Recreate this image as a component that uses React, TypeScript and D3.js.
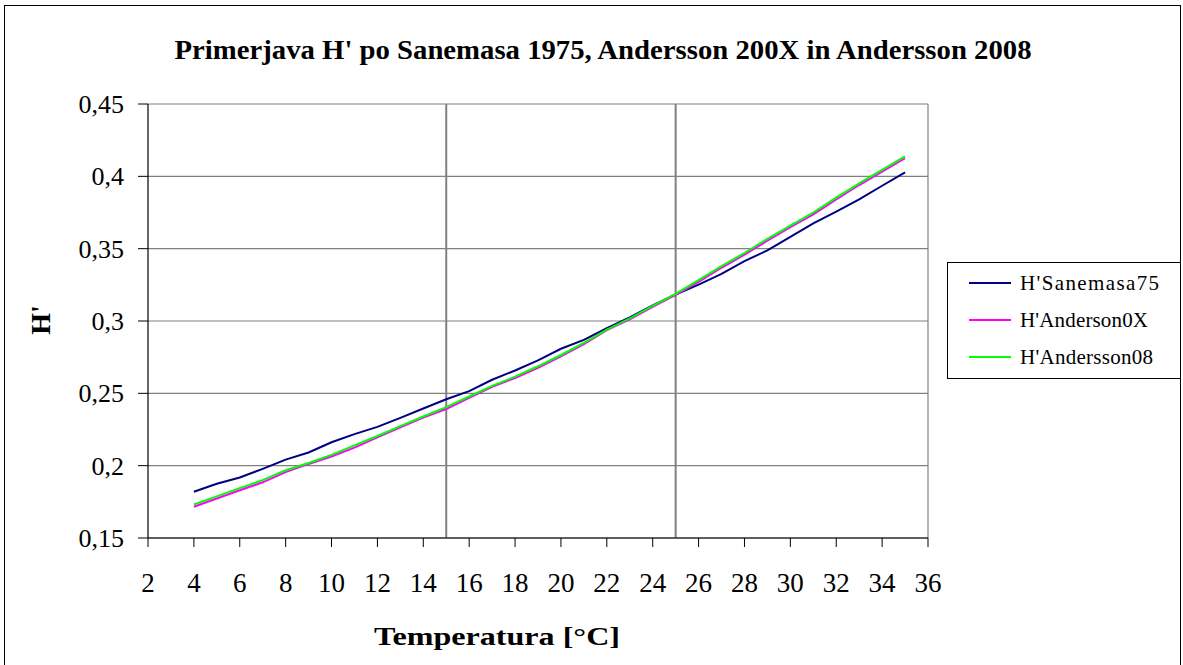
import React from "react";
import * as d3 from "d3";

const temps = [4, 5, 6, 7, 8, 9, 10, 11, 12, 13, 14, 15, 16, 17, 18, 19, 20, 21, 22, 23, 24, 25, 26, 27, 28, 29, 30, 31, 32, 33, 34, 35];

const sanemasa75 = [
  0.182, 0.1875, 0.1918, 0.1978, 0.2042, 0.2091, 0.2162, 0.2218, 0.2268, 0.233, 0.2395, 0.2459,
  0.2515, 0.2594, 0.2658, 0.2728, 0.2808, 0.287, 0.295, 0.3025, 0.3108, 0.3183, 0.3252, 0.3325,
  0.3414, 0.3488, 0.3582, 0.3675, 0.3756, 0.384, 0.3935, 0.4028,
];

const anderson0X = [
  0.1716, 0.1773, 0.183, 0.1885, 0.1955, 0.2012, 0.2063, 0.2125, 0.2195, 0.2265, 0.2333, 0.2392,
  0.2468, 0.2545, 0.2606, 0.2677, 0.2755, 0.284, 0.2937, 0.3012, 0.3098, 0.318, 0.327, 0.3368,
  0.3458, 0.3555, 0.3648, 0.3737, 0.384, 0.394, 0.4032, 0.4125,
];

const andersson08 = [
  0.1732, 0.1788, 0.1845, 0.19, 0.1968, 0.2018, 0.2075, 0.214, 0.2205, 0.2273, 0.234, 0.2405,
  0.2478, 0.2552, 0.2615, 0.2687, 0.2765, 0.2848, 0.294, 0.3018, 0.3105, 0.3188, 0.3282, 0.338,
  0.347, 0.3568, 0.366, 0.375, 0.3853, 0.3952, 0.4045, 0.4138,
];

const seriesNames = ["H'Sanemasa75", "H'Anderson0X", "H'Andersson08"];
const seriesColors = ["#000080", "#FF00FF", "#00FF00"];
const xTicks = [2, 4, 6, 8, 10, 12, 14, 16, 18, 20, 22, 24, 26, 28, 30, 32, 34, 36];
const yTicks = [0.15, 0.2, 0.25, 0.3, 0.35, 0.4, 0.45];
const markerTemps = [15, 25];

const W = 1183;
const H = 665;
const plot = { left: 148, right: 928, top: 104, bottom: 538 };
const serif = { fontFamily: '"Liberation Serif", "Times New Roman", Times, serif' };

export default function App() {
  const x = d3.scaleLinear().domain([2, 36]).range([plot.left, plot.right]);
  const y = d3.scaleLinear().domain([0.15, 0.45]).range([plot.bottom, plot.top]);

  const allSeries = [sanemasa75, anderson0X, andersson08];
  const line = d3
    .line<number>()
    .x((_, i) => x(temps[i]))
    .y((d) => y(d));

  const fmt = (v: number) => String(+v.toFixed(2)).replace(".", ",");

  return (
    <svg width={W} height={H} style={{ position: "absolute", left: 0, top: 0, background: "#fff" }}>
      <rect x={4.5} y={5.5} width={1176} height={670} fill="#fff" stroke="#000" strokeWidth={1} />

      {/* title */}
      <text
        x={603}
        y={59}
        textAnchor="middle"
        fontSize={27}
        fontWeight="bold"
        textLength={857}
        lengthAdjust="spacingAndGlyphs"
        style={serif}
      >
        Primerjava H' po Sanemasa 1975, Andersson 200X in Andersson 2008
      </text>

      {/* grid */}
      {yTicks.map((t) => (
        <line key={"g" + t} x1={plot.left} x2={plot.right} y1={y(t)} y2={y(t)} stroke="#808080" strokeWidth={1.2} />
      ))}
      <line x1={plot.right} x2={plot.right} y1={plot.top} y2={plot.bottom} stroke="#808080" strokeWidth={1.2} />
      {markerTemps.map((t) => (
        <line key={"m" + t} x1={x(t)} x2={x(t)} y1={plot.top} y2={plot.bottom} stroke="#808080" strokeWidth={2} />
      ))}

      {/* axes */}
      <line x1={plot.left} x2={plot.left} y1={plot.top} y2={plot.bottom} stroke="#000" strokeWidth={1.2} />
      <line x1={plot.left} x2={plot.right} y1={plot.bottom} y2={plot.bottom} stroke="#000" strokeWidth={1.2} />
      {yTicks.map((t) => (
        <g key={"y" + t}>
          <line x1={plot.left - 10} x2={plot.left} y1={y(t)} y2={y(t)} stroke="#000" />
          <text x={124} y={y(t)} dy="0.35em" textAnchor="end" fontSize={26} style={serif}>
            {fmt(t)}
          </text>
        </g>
      ))}
      {xTicks.map((t) => (
        <g key={"x" + t}>
          <line x1={x(t)} x2={x(t)} y1={plot.bottom} y2={plot.bottom + 9} stroke="#000" />
          <text x={x(t)} y={592} textAnchor="middle" fontSize={27} style={serif}>
            {t}
          </text>
        </g>
      ))}

      {/* axis titles */}
      <text
        x={497}
        y={645}
        textAnchor="middle"
        fontSize={26}
        fontWeight="bold"
        textLength={246}
        lengthAdjust="spacingAndGlyphs"
        style={serif}
      >
        Temperatura [°C]
      </text>
      <text transform="translate(50,320) rotate(-90)" textAnchor="middle" fontSize={28} fontWeight="bold" style={serif}>
        H'
      </text>

      {/* series */}
      {allSeries.map((s, i) => (
        <path key={seriesNames[i]} d={line(s) || ""} fill="none" stroke={seriesColors[i]} strokeWidth={2} />
      ))}

      {/* legend */}
      <rect x={947.5} y={262.5} width={233} height={116} fill="#fff" stroke="#000" strokeWidth={1} />
      {seriesNames.map((n, i) => (
        <g key={"l" + n}>
          <line x1={969} x2={1011} y1={283 + i * 37} y2={283 + i * 37} stroke={seriesColors[i]} strokeWidth={2} />
          <text
            x={1020}
            y={283 + i * 37}
            dy="0.35em"
            fontSize={21}
            textLength={[139, 128, 133][i]}
            lengthAdjust="spacing"
            style={serif}
          >
            {n}
          </text>
        </g>
      ))}
    </svg>
  );
}
